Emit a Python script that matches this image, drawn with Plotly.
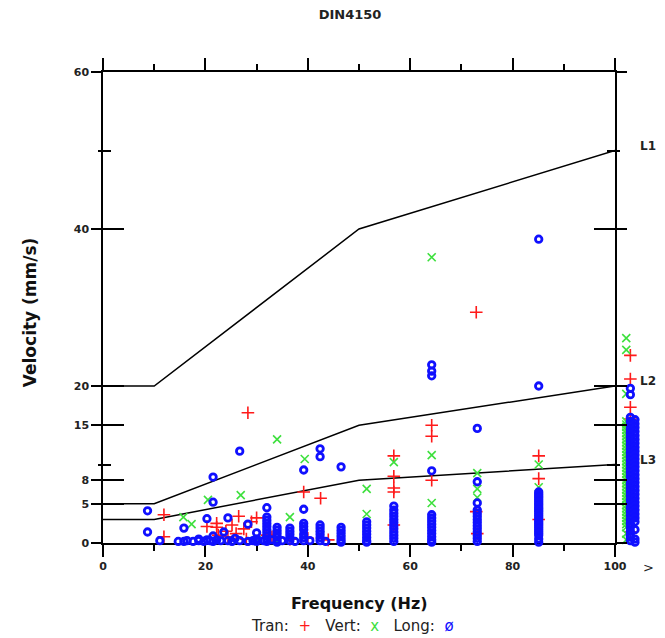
import plotly.graph_objects as go

# ---- limit lines (DIN 4150) ----
line_freq = [0, 10, 50, 100]
L1_vel = [20, 20, 40, 50]
L2_vel = [5, 5, 15, 20]
L3_vel = [3, 3, 8, 10]
line_names = ["L1", "L2", "L3"]

# ---- axis ticks ----
x_major = [0, 20, 40, 60, 80, 100]
x_minor = [10, 30, 50, 70, 90]
y_major = [0, 5, 8, 15, 20, 40, 60]
y_minor = [10, 50]

# ---- Tran (red +) ----
tran_f = [11.9, 11.9, 20.3, 22.2, 22.2, 24.0, 25.2, 26.5, 27.5, 28.3, 29.0, 30.0, 32.0,
          22.5, 24.4, 26.0, 28.0, 33.0, 36.5, 39.2, 42.5, 40.0, 44.0,
          56.8, 56.8, 56.8, 56.8, 56.8,
          64.2, 64.2, 64.2,
          72.9, 72.9, 73.1,
          85.1, 85.1, 85.1,
          103.0, 103.0, 103.0, 103.0, 103.0, 103.0, 103.0, 103.0, 103.0, 103.0,
          103.0, 103.0, 103.0]
tran_v = [3.6, 0.8, 2.1, 2.5, 2.0, 1.5, 2.3, 3.4, 1.8, 16.6, 2.7, 3.2, 1.0,
          1.0, 0.8, 1.2, 0.5, 0.8, 0.5, 6.5, 5.7, 0.6, 0.4,
          11.1, 8.5, 7.0, 6.5, 2.3,
          15.0, 13.6, 8.0,
          29.4, 4.0, 1.2,
          11.1, 8.2, 3.0,
          23.9, 20.9, 17.3, 15.8, 14.2, 12.6, 11.0, 9.4, 7.8, 6.2,
          4.6, 3.0, 1.4]

# ---- Vert (green x) ----
vert_f = [15.7, 17.3, 20.5, 26.9, 34.0, 36.5, 39.4, 34.0, 42.4, 46.5, 30.0,
          51.5, 51.5, 56.8,
          64.2, 64.2, 64.2,
          73.1, 73.1, 73.1,
          85.1, 85.1, 85.1,
          102.2, 102.2, 102.2, 102.2, 102.2, 102.2, 102.2, 102.2, 102.2, 102.2,
          102.2, 102.2, 102.2, 102.2, 102.2, 102.2, 102.2, 102.2, 102.2, 102.2,
          102.2, 102.2, 102.2, 102.2, 102.2, 102.2, 102.2, 102.2, 102.2, 102.2,
          102.2, 102.2, 102.2, 102.2, 102.2, 102.2, 102.2, 102.2, 102.2, 102.2]
vert_v = [3.3, 2.4, 5.5, 6.1, 13.2, 3.3, 10.7, 0.3, 1.0, 0.5, 0.4,
          6.9, 3.7, 10.3,
          36.4, 11.2, 5.1,
          8.9, 6.9, 5.8,
          10.0, 7.1, 4.5,
          26.1, 24.6, 19.0, 15.5, 15.1, 14.8, 14.4, 14.0, 13.6, 13.2,
          12.8, 12.4, 12.0, 11.6, 11.2, 10.8, 10.4, 10.0, 9.6, 9.2,
          8.8, 8.4, 8.0, 7.6, 7.2, 6.8, 6.4, 6.0, 5.6, 5.2,
          4.8, 4.4, 4.0, 3.6, 3.2, 2.8, 2.4, 2.0, 1.2, 0.4]

# ---- Long (blue o) ----
long_f = [8.7, 8.7, 11.1, 14.7, 15.8, 15.8, 16.4, 17.6, 18.7, 18.7, 19.7, 20.3, 20.3, 20.9,
          21.5, 21.5, 21.5, 21.5, 22.2, 23.0, 23.6, 24.4, 24.4, 25.2, 25.8, 26.7, 26.7,
          28.3, 28.3, 29.3, 30.0, 30.0, 30.0, 31.4,
          32.0, 32.0, 32.0, 32.0, 32.0, 32.0, 32.0, 32.0, 32.0, 32.0,
          33.0,
          34.0, 34.0, 34.0, 34.0, 34.0, 34.0,
          35.0,
          36.5, 36.5, 36.5, 36.5, 36.5,
          37.5,
          39.2, 39.2, 39.2, 39.2, 39.2, 39.2, 39.2, 39.2,
          40.4,
          42.4, 42.4, 42.4, 42.4, 42.4, 42.4, 42.4, 42.4,
          43.5,
          46.5, 46.5, 46.5, 46.5, 46.5, 46.5, 46.5,
          51.5, 51.5, 51.5, 51.5, 51.5, 51.5, 51.5, 51.5,
          56.8, 56.8, 56.8, 56.8, 56.8, 56.8, 56.8, 56.8, 56.8, 56.8, 56.8, 56.8,
          64.2, 64.2, 64.2, 64.2, 64.2, 64.2, 64.2, 64.2, 64.2, 64.2, 64.2, 64.2, 64.2, 64.2,
          73.1, 73.1, 73.1, 73.1, 73.1, 73.1, 73.1, 73.1, 73.1, 73.1, 73.1, 73.1, 73.1, 73.1,
          85.1, 85.1, 85.1, 85.1, 85.1, 85.1, 85.1, 85.1, 85.1, 85.1, 85.1, 85.1, 85.1, 85.1,
          85.1, 85.1, 85.1, 85.1, 85.1, 85.1, 85.1, 85.1, 85.1, 85.1, 85.1, 85.1, 85.1,
          103.0, 103.0, 103.0, 103.0, 103.0, 103.0, 103.0, 103.0, 103.0, 103.0,
          103.0, 103.0, 103.0, 103.0, 103.0, 103.0, 103.0, 103.0, 103.0, 103.0,
          103.0, 103.0, 103.0, 103.0, 103.0, 103.0, 103.0, 103.0, 103.0, 103.0,
          103.0, 103.0, 103.0, 103.0, 103.0,
          103.9, 103.9, 103.9, 103.9, 103.9, 103.9, 103.9, 103.9, 103.9, 103.9,
          103.9, 103.9, 103.9, 103.9, 103.9, 103.9, 103.9, 103.9, 103.9, 103.9,
          103.9, 103.9, 103.9, 103.9, 103.9, 103.9, 103.9, 103.9, 103.9, 103.9]
long_v = [4.1, 1.4, 0.3, 0.2, 1.9, 0.2, 0.3, 0.2, 0.3, 0.5, 0.2, 3.1, 0.4, 0.3,
          8.4, 5.2, 0.9, 0.2, 0.4, 0.3, 1.4, 3.2, 0.3, 0.2, 0.6, 11.7, 0.3,
          2.4, 0.2, 0.3, 1.3, 0.5, 0.2, 0.3,
          4.5, 3.3, 2.9, 2.5, 2.1, 1.7, 1.3, 0.9, 0.5, 0.2,
          0.4,
          2.0, 1.6, 1.2, 0.8, 0.4, 0.1,
          0.3,
          1.9, 1.5, 1.1, 0.7, 0.3,
          0.2,
          9.3, 4.3, 2.5, 2.1, 1.7, 1.1, 0.7, 0.3,
          0.3,
          12.0, 11.0, 2.3, 1.9, 1.5, 1.1, 0.7, 0.3,
          0.2,
          9.7, 2.0, 1.6, 1.2, 0.8, 0.4, 0.1,
          2.7, 2.3, 1.9, 1.5, 1.1, 0.7, 0.3, 0.1,
          4.7, 4.2, 3.8, 3.4, 3.0, 2.6, 2.2, 1.8, 1.4, 1.0, 0.6, 0.2,
          22.7, 21.9, 21.3, 9.2, 3.6, 3.2, 2.8, 2.4, 2.0, 1.6, 1.2, 0.8, 0.4, 0.1,
          14.6, 7.8, 5.1, 4.2, 3.8, 3.4, 3.0, 2.6, 2.2, 1.8, 1.4, 1.0, 0.6, 0.2,
          38.7, 20.0, 6.5, 6.0, 5.5, 5.0, 4.5, 4.0, 3.5, 3.0, 2.5, 2.0, 1.5, 1.0,
          0.5, 0.1, 6.25, 5.75, 5.25, 4.75, 4.25, 3.75, 3.25, 2.75, 2.25, 1.75, 1.25,
          0.75, 0.3,
          19.7, 18.9, 16.0, 15.5, 15.0, 14.5, 14.0, 13.5, 13.0, 12.5,
          12.0, 11.5, 11.0, 10.5, 10.0, 9.5, 9.0, 8.5, 8.0, 7.5,
          7.0, 6.5, 6.0, 5.5, 5.0, 4.5, 4.0, 3.5, 3.0, 2.5,
          2.0, 1.5, 1.0, 0.5, 0.1,
          15.7, 15.2, 14.7, 14.2, 13.7, 13.2, 12.7, 12.2, 11.7, 11.2,
          10.7, 10.2, 9.7, 9.2, 8.7, 8.2, 7.7, 7.2, 6.7, 6.2,
          5.7, 5.2, 4.7, 4.2, 3.7, 3.2, 2.7, 1.7, 0.8, 0.3]

FONT = "DejaVu Sans, Verdana, sans-serif"
RED = "#ff1a1a"
GREEN = "#3de03d"
BLUE = "#1010ff"

# plot geometry: frame from x=103 to 615 px, data layer extends toward the page edge
ML, MR = 103, 5
W = 665 - ML - MR
DOM = 512 / W                 # fraction of the plot width covered by the 0..100 frame
X2_MAX = 100 / DOM            # range of the wide (data) x axis

fig = go.Figure()

# limit lines
for vel in (L1_vel, L2_vel, L3_vel):
    fig.add_trace(go.Scatter(x=line_freq, y=vel, mode="lines", xaxis="x", yaxis="y2",
                             line=dict(color="black", width=1.5), showlegend=False,
                             hoverinfo="skip"))

fig.add_trace(go.Scatter(x=tran_f, y=tran_v, mode="markers", name="Tran", cliponaxis=False,
                         xaxis="x2", yaxis="y",
                         marker=dict(symbol="cross-thin", size=9, color=RED,
                                     line=dict(color=RED, width=1.6))))
fig.add_trace(go.Scatter(x=vert_f, y=vert_v, mode="markers", name="Vert", cliponaxis=False,
                         xaxis="x2", yaxis="y",
                         marker=dict(symbol="x-thin", size=8, color=GREEN,
                                     line=dict(color=GREEN, width=1.6))))
fig.add_trace(go.Scatter(x=long_f, y=long_v, mode="markers", name="Long", cliponaxis=False,
                         xaxis="x2", yaxis="y",
                         marker=dict(symbol="circle-open", size=6.5, color=BLUE,
                                     line=dict(color=BLUE, width=2.8))))

axis_common = dict(showgrid=False, zeroline=False, showline=True, linecolor="black",
                   linewidth=1.5, tickcolor="black", tickwidth=1.5, automargin=False)

TICKFONT = dict(size=11, family=FONT, color="#222", weight="bold")

fig.update_layout(
    width=665, height=638,
    margin=dict(l=ML, r=MR, t=72, b=95, autoexpand=False),
    paper_bgcolor="white", plot_bgcolor="rgba(0,0,0,0)",
    showlegend=False,
    font=dict(family=FONT, color="#222"),
    title=dict(text="<b>DIN4150</b>", x=350 / 665, y=1 - 14 / 638, xanchor="center",
               yanchor="middle", xref="container", yref="container",
               font=dict(size=13, family=FONT, color="#222")),
    xaxis=dict(domain=[0, DOM], range=[0, 100], tickmode="array", tickvals=x_major,
               ticks="outside", ticklen=12, mirror="ticks", tickfont=TICKFONT,
               minor=dict(tickmode="array", tickvals=x_minor, ticks="outside", ticklen=6,
                          tickcolor="black", tickwidth=1.5),
               **axis_common),
    xaxis2=dict(domain=[0, 1], range=[0, X2_MAX], anchor="y", visible=False,
                showgrid=False, zeroline=False, automargin=False),
    yaxis=dict(range=[0, 60], tickmode="array", tickvals=y_major, ticks="outside",
               ticklen=10, mirror="ticks", anchor="x", tickfont=TICKFONT,
               minor=dict(tickmode="array", tickvals=y_minor, ticks="outside", ticklen=3,
                          tickcolor="black", tickwidth=1.5),
               **axis_common),
    yaxis2=dict(range=[0, 60], overlaying="y", side="left", anchor="x", tickmode="array",
                tickvals=y_major, ticks="inside", ticklen=21, mirror="ticks",
                showticklabels=False,
                minor=dict(tickmode="array", tickvals=y_minor, ticks="inside", ticklen=8,
                           tickcolor="black", tickwidth=1.5),
                **axis_common),
)

NB = "\u00a0"
legend_text = ("Tran:" + NB * 2 + "<span style='color:%s'>+</span>" + NB * 3 +
               "Vert:" + NB * 2 + "<span style='color:%s'>x</span>" + NB * 3 +
               "Long:" + NB * 2 + "<span style='color:%s'>ø</span>") % (RED, GREEN, BLUE)

ann = []
ann.append(dict(text="<b>Velocity (mm/s)</b>", xref="paper", yref="paper",
                x=(30 - 103) / W, y=0.49, textangle=-90, showarrow=False,
                xanchor="center", yanchor="middle", font=dict(size=17, family=FONT, color="#111")))
ann.append(dict(text="<b>Frequency (Hz)</b>", xref="paper", yref="paper",
                x=(359 - 103) / W, y=(543 - 603) / 471, showarrow=False,
                xanchor="center", yanchor="middle", font=dict(size=16, family=FONT, color="#111")))
ann.append(dict(text=legend_text,
                xref="paper", yref="paper", x=(352 - 103) / W, y=(543 - 626) / 471,
                showarrow=False, xanchor="center", yanchor="middle",
                font=dict(size=15, family=FONT, color="#222")))
ann.append(dict(text=">", xref="x", yref="paper", x=100, xshift=33, y=(543 - 567) / 471,
                showarrow=False, xanchor="center", yanchor="middle",
                font=dict(size=13, family=FONT, color="#222")))
for name, vel in zip(line_names, (L1_vel, L2_vel, L3_vel)):
    ann.append(dict(text="<b>%s</b>" % name, xref="x", yref="y", x=100, y=vel[-1] + 0.6,
                    xshift=33, showarrow=False, xanchor="center", yanchor="middle",
                    font=dict(size=12, family=FONT, color="#222")))
fig.update_layout(annotations=ann)

fig.write_html("out.html", config={"displayModeBar": False},
               post_script="document.body.style.margin='0';")
